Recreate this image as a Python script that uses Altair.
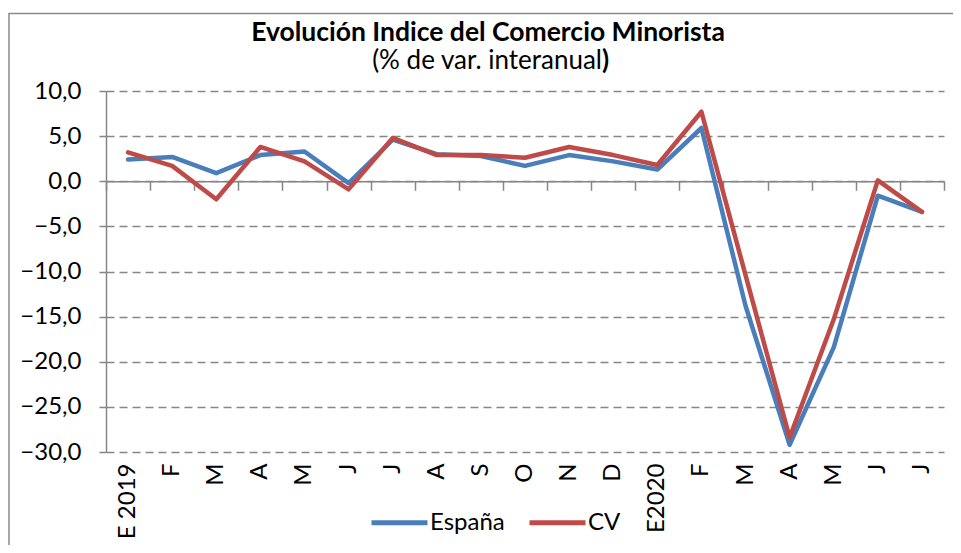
import altair as alt
import pandas as pd

months = ["E 2019", "F", "M", "A", "M", "J", "J", "A", "S", "O", "N", "D",
          "E2020", "F", "M", "A", "M", "J", "J"]
espana = [2.4, 2.7, 0.9, 2.9, 3.3, -0.2, 4.6, 3.0, 2.8, 1.7, 2.9, 2.2,
          1.3, 5.9, -13.8, -29.2, -18.4, -1.6, -3.4]
cv = [3.2, 1.7, -2.0, 3.8, 2.2, -0.9, 4.8, 2.9, 2.9, 2.6, 3.8, 2.9,
      1.8, 7.7, -10.4, -28.4, -15.3, 0.1, -3.4]
series = ["España", "CV"]
colors = ["#4A7EBB", "#BE4B48"]
y_ticks = [-30, -25, -20, -15, -10, -5, 0, 5, 10]

rows = []
for name, vals in zip(series, [espana, cv]):
    for i, v in enumerate(vals):
        rows.append({"i": i, "serie": name, "v": v})
df = pd.DataFrame(rows)

W, H = 838, 361
FONT = "Lato"
GRAY = "#868686"
label_expr = "[" + ",".join("'" + m + "'" for m in months) + "][datum.value]"

xscale = alt.Scale(type="band", paddingInner=0, paddingOuter=0)
yscale = alt.Scale(domain=[-30, 10], nice=False, zero=False)
y_axis = alt.Axis(
    title=None, values=y_ticks,
    labelExpr="replace(format(datum.value, '.1f'), '.', ',')",
    grid=True, gridDash=[8, 5], gridColor=GRAY, gridWidth=1.5,
    domainColor=GRAY, domainWidth=1.5, tickColor=GRAY, tickSize=7,
    tickWidth=1.5, labelPadding=18, labelFontSize=24, labelFont=FONT,
    labelColor="black")

lines = alt.Chart(df).mark_line(strokeWidth=4.5, strokeJoin="round", strokeCap="round").encode(
    x=alt.X("i:O", scale=xscale, axis=alt.Axis(
        orient="bottom", title=None, labelExpr=label_expr, labelAngle=-90,
        domain=False, ticks=False, grid=False, labelPadding=11,
        labelFontSize=24, labelFont=FONT, labelColor="black")),
    y=alt.Y("v:Q", scale=yscale, axis=y_axis),
    color=alt.Color("serie:N", scale=alt.Scale(domain=series, range=colors),
                    sort=series,
                    legend=alt.Legend(orient="none", legendX=263, legendY=401,
                                      direction="horizontal", columns=2, title=None,
                                      symbolType="stroke", symbolSize=3136,
                                      symbolStrokeWidth=5, labelFont=FONT,
                                      labelFontSize=24, labelColor="black",
                                      columnPadding=14, labelOffset=0, padding=0)),
)

zero_axis = alt.Chart(df).mark_line(opacity=0).encode(
    x=alt.X("i:O", scale=xscale, axis=alt.Axis(
        orient="bottom", title=None, labels=False, domain=True,
        domainColor=GRAY, domainWidth=1.5, ticks=True, tickBand="extent",
        tickColor=GRAY, tickWidth=1.5, tickSize=9, grid=False,
        offset=-(H * 30 / 40))),
    y=alt.Y("v:Q", scale=yscale, axis=y_axis),
    detail="serie:N",
)

one = alt.Data(values=[{"a": 1}])
border = alt.Chart(one).mark_rect(fillOpacity=0, stroke="#8a8a8a", strokeWidth=1.5).encode(
    x=alt.value(-97), x2=alt.value(W + 100), y=alt.value(-77.5), y2=alt.value(H + 200))

title = alt.Chart(one).mark_text(
    text="Evolución Indice del Comercio Minorista", font=FONT, fontSize=26.5,
    fontWeight="bold", align="center", baseline="alphabetic", color="black"
).encode(x=alt.value(382), y=alt.value(-50))

sub1 = alt.Chart(one).mark_text(
    text="(% de var. interanual", font=FONT, fontSize=26,
    align="right", baseline="alphabetic", color="black"
).encode(x=alt.value(496), y=alt.value(-22))

sub2 = alt.Chart(one).mark_text(
    text=")", font=FONT, fontSize=26, fontWeight="bold",
    align="left", baseline="alphabetic", color="black"
).encode(x=alt.value(496), y=alt.value(-22))

chart = alt.layer(border, zero_axis, lines, title, sub1, sub2).resolve_axis(
    x="independent"
).properties(
    width=W, height=H,
    autosize=alt.AutoSizeParams(type="none"),
    padding={"left": 98, "top": 83, "right": 9, "bottom": 93},
).configure_view(stroke="transparent")

chart.save("out.html", embed_options={"renderer": "svg", "actions": False})
